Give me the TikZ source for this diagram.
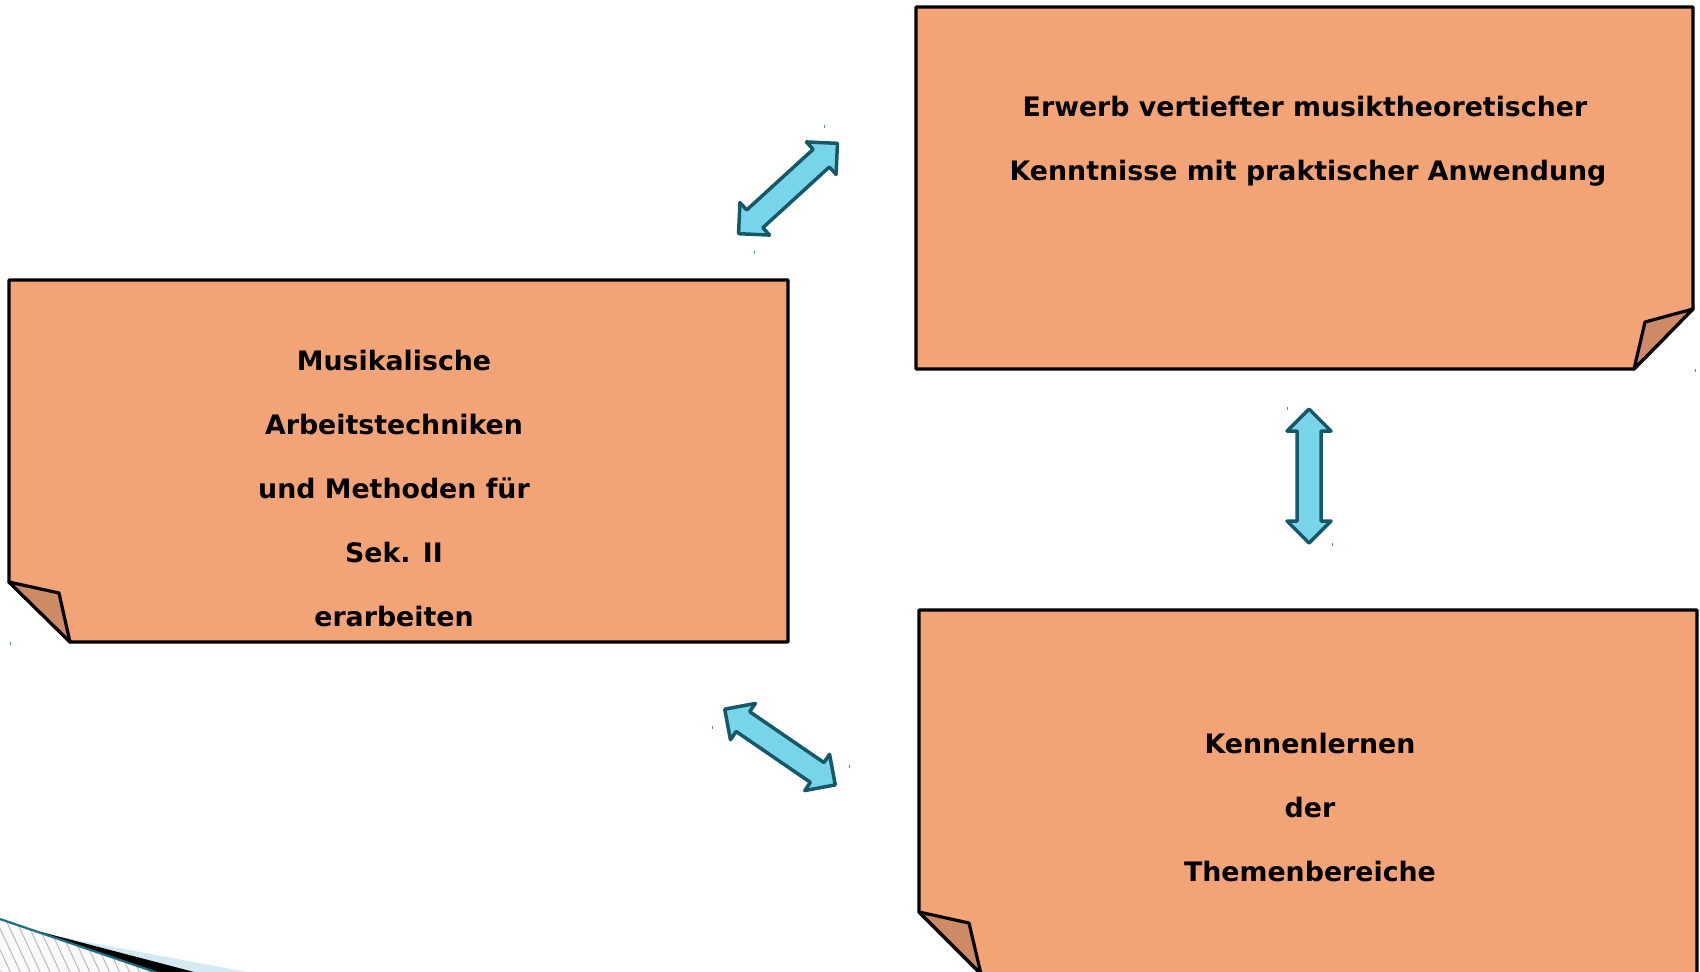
\documentclass[tikz,border=0pt]{standalone}
\usepackage{fontspec}
\setmainfont{DejaVu Sans}
\usetikzlibrary{patterns.meta}
\definecolor{paper}{RGB}{242,164,118}
\definecolor{foldc}{RGB}{206,138,101}
\definecolor{arrowfill}{RGB}{120,212,232}
\definecolor{arrowline}{RGB}{22,88,104}
\definecolor{swteal}{RGB}{30,110,130}
\definecolor{swblue}{RGB}{212,234,242}
\definecolor{hatchbg}{RGB}{250,250,250}
\tikzset{
  note/.style={fill=paper, draw=black, line width=1.6pt, line join=round},
  notefold/.style={fill=foldc, draw=black, line width=1.6pt, line join=round},
  blockarrow/.style={fill=arrowfill, draw=arrowline, line width=1.75pt, line join=round},
  notetext/.style={font=\bfseries\fontsize{13.4}{32}\selectfont, anchor=base, inner sep=0pt},
  tickmark/.style={draw=arrowline!70, line width=0.5pt},
  pics/dblarrow/.style={code={
    \draw[blockarrow] (-67,0) -- (-45,22) -- (-45,12) -- (45,12) -- (45,22) -- (67,0)
      -- (45,-22) -- (45,-12) -- (-45,-12) -- (-45,-22) -- cycle;
  }},
}
\begin{document}
\begin{tikzpicture}[x=0.5pt,y=-0.5pt]
\useasboundingbox (0,0) rectangle (1700,971);
\begin{scope}
\clip (0,0) rectangle (1700,971);
% bottom-left swoosh
\fill[hatchbg] (0,919) -- (158,973) -- (0,973) -- cycle;
\fill[pattern={Lines[angle=-65, distance=4.5pt, line width=0.5pt]}, pattern color=gray!55] (0,919) -- (158,973) -- (0,973) -- cycle;
\fill[swblue] (55,936) -- (252,973) -- (197,973) -- cycle;
\fill[black] (30,929) -- (198,973) -- (158,973) -- cycle;
\draw[swteal, line width=1.1pt] (0,919) -- (158,973);

% notes
\draw[note] (916,7) -- (1693,7) -- (1693,309) -- (1634,369) -- (916,369) -- cycle;
\draw[notefold] (1693,309) -- (1645,322) -- (1634,369) -- cycle;

\draw[note] (9,280) -- (788,280) -- (788,642) -- (70,642) -- (9,582) -- cycle;
\draw[notefold] (9,582) -- (59,593) -- (70,642) -- cycle;

\draw[note] (919,610) -- (1697,610) -- (1697,974) -- (981,974) -- (919,912) -- cycle;
\draw[notefold] (919,912) -- (969,923) -- (981,974) -- cycle;

% texts
\node[notetext] (t1) at (1305,116) {Erwerb vertiefter musiktheoretischer};
\node[notetext] (t2) at (1308,180) {Kenntnisse mit praktischer Anwendung};

\node[notetext] (l1) at (394,370) {Musikalische};
\node[notetext] (l2) at (394,434) {Arbeitstechniken};
\node[notetext] (l3) at (394,498) {und Methoden für};
\node[notetext] (l4) at (394,562) {Sek. II};
\node[notetext] (l5) at (394,626) {erarbeiten};

\node[notetext] (b1) at (1310,753) {Kennenlernen};
\node[notetext] (b2) at (1310,817) {der};
\node[notetext] (b3) at (1310,881) {Themenbereiche};

% block arrows
\pic[rotate=42.4] at (788,188.5) {dblarrow};
\pic[rotate=-90] at (1309,476) {dblarrow};
\pic[rotate=-34.4] at (780,747) {dblarrow};

% tiny handle marks
\foreach \x/\y in {824/126, 754/252, 1287/408, 1332/544, 712/727, 849/766, 10/643, 1695/370}
  \draw[tickmark] (\x,\y-1.5) -- (\x,\y+1.5);
\end{scope}
\end{tikzpicture}
\end{document}
